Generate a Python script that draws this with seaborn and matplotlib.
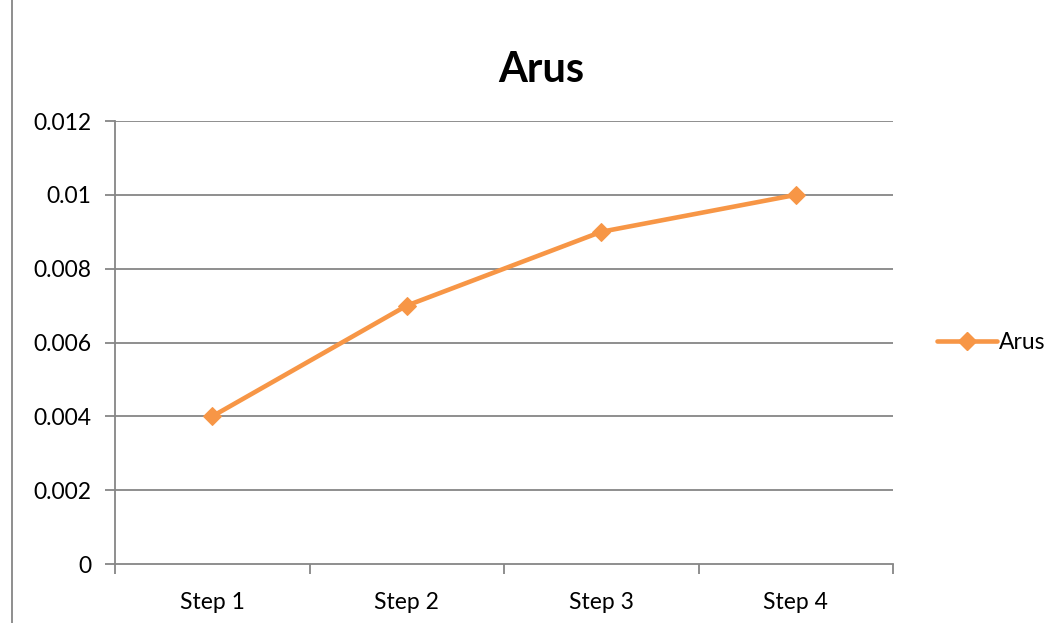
import pandas as pd
import matplotlib.pyplot as plt
import matplotlib.lines as mlines
import seaborn as sns

steps = ["Step 1", "Step 2", "Step 3", "Step 4"]
arus = [0.004, 0.007, 0.009, 0.01]
y_ticks = [0, 0.002, 0.004, 0.006, 0.008, 0.01, 0.012]
y_labels = ["0", "0.002", "0.004", "0.006", "0.008", "0.01", "0.012"]

df = pd.DataFrame({"step": steps, "arus": arus})

sns.set_style("white")
plt.rcParams["font.family"] = ["Lato", "DejaVu Sans"]
plt.rcParams["text.color"] = "black"
plt.rcParams["xtick.labelcolor"] = "black"
plt.rcParams["ytick.labelcolor"] = "black"

orange = "#F79646"
grey = "#868686"

fig = plt.figure(figsize=(10.6, 6.23), dpi=100)
ax = fig.add_axes([0.1085, 0.0947, 0.734, 0.711])

sns.lineplot(data=df, x="step", y="arus", ax=ax, color=orange, linewidth=3.3,
             marker="D", markersize=9.5, markeredgecolor=orange, sort=False)

ax.set_xlim(-0.5, 3.5)
ax.set_ylim(0, 0.012)
ax.set_yticks(y_ticks)
ax.set_yticklabels(y_labels, fontsize=16.5, color="black")
ax.set_xticks(range(len(steps)))
ax.set_xticklabels(steps, fontsize=16.5, color="black")
ax.set_xticks([-0.5, 0.5, 1.5, 2.5, 3.5], minor=True)
ax.tick_params(axis="x", which="major", bottom=False, length=0, pad=20)
ax.tick_params(axis="x", which="minor", bottom=True, length=7, color=grey,
               width=1.3, direction="out")
ax.tick_params(axis="y", left=True, length=7, color=grey, width=1.3,
               direction="out", pad=10)
ax.set_xlabel("")
ax.set_ylabel("")

for y in y_ticks[1:]:
    ax.axhline(y, color=grey, linewidth=1.3, zorder=0)

for side in ["top", "right"]:
    ax.spines[side].set_visible(False)
for side in ["left", "bottom"]:
    ax.spines[side].set_color(grey)
    ax.spines[side].set_linewidth(1.3)

fig.text(541 / 1060, 1 - 70 / 623, "Arus", fontsize=30, fontweight="bold",
         ha="center", va="center", color="black")

handle = mlines.Line2D([], [], color=orange, linewidth=3.3, marker="D",
                       markersize=9.5)
ax.legend([handle], ["Arus"], loc="center left", bbox_to_anchor=(1.03, 0.5),
          frameon=False, fontsize=16.5, handlelength=2.6, handletextpad=0.1,
          labelcolor="black")

fig.add_artist(mlines.Line2D([12 / 1060, 12 / 1060], [0.0, 1.0], color=grey,
                             linewidth=1.3))

plt.savefig("out.png", dpi=100)
